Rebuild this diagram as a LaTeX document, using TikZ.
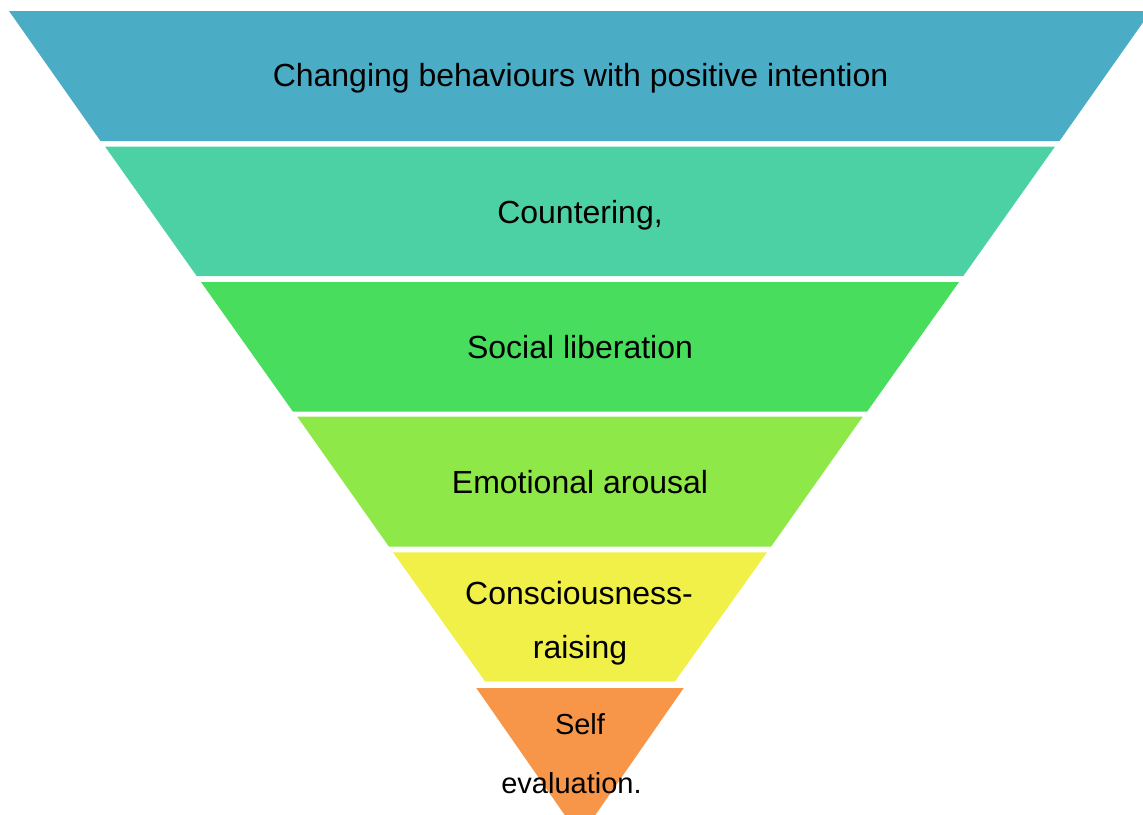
\documentclass[tikz,border=0pt]{standalone}
\usepackage{fontspec}
\setmainfont{Liberation Sans}
\definecolor{c1}{RGB}{75,172,198}
\definecolor{c2}{RGB}{76,209,165}
\definecolor{c3}{RGB}{72,221,92}
\definecolor{c4}{RGB}{142,232,72}
\definecolor{c5}{RGB}{240,240,72}
\definecolor{c6}{RGB}{247,150,72}
\tikzset{lbl/.style={anchor=base,inner sep=0pt,font=\fontsize{32}{38}\selectfont,text=black},
  lblsmall/.style={lbl,font=\fontsize{29}{34}\selectfont}}
\begin{document}
\begin{tikzpicture}[x=1pt,y=-1pt]
\useasboundingbox (0,0) rectangle (1143,814);
\clip (0,0) rectangle (1143,814);
% top y / top half-width / bottom y / bottom half-width / colour ; centre x = 580
\foreach \t/\wt/\b/\wb/\c in {11/571/141/479.5/c1,146.5/475/276/383.3/c2,282/379/411.7/287/c3,416.7/282.7/546.7/191/c4,552.3/187/681.7/94.7/c5,688/103.7/837/0/c6}{
  \fill[\c] (580-\wt,\t) -- (580+\wt,\t) -- (580+\wb,\b) -- (580-\wb,\b) -- cycle;
}
\node[lbl] (t1) at (580.5,86) {Changing behaviours with positive intention};
\node[lbl] (t2) at (580,223) {Countering,};
\node[lbl] (t3) at (580,358) {Social liberation};
\node[lbl] (t4) at (580,493) {Emotional arousal};
\node[lbl] (t5a) at (579,604) {Consciousness-};
\node[lbl] (t5b) at (580,658) {raising};
\node[lblsmall] (t6a) at (580,734) {Self};
\node[lblsmall] (t6b) at (571.5,793) {evaluation.};
\end{tikzpicture}
\end{document}
